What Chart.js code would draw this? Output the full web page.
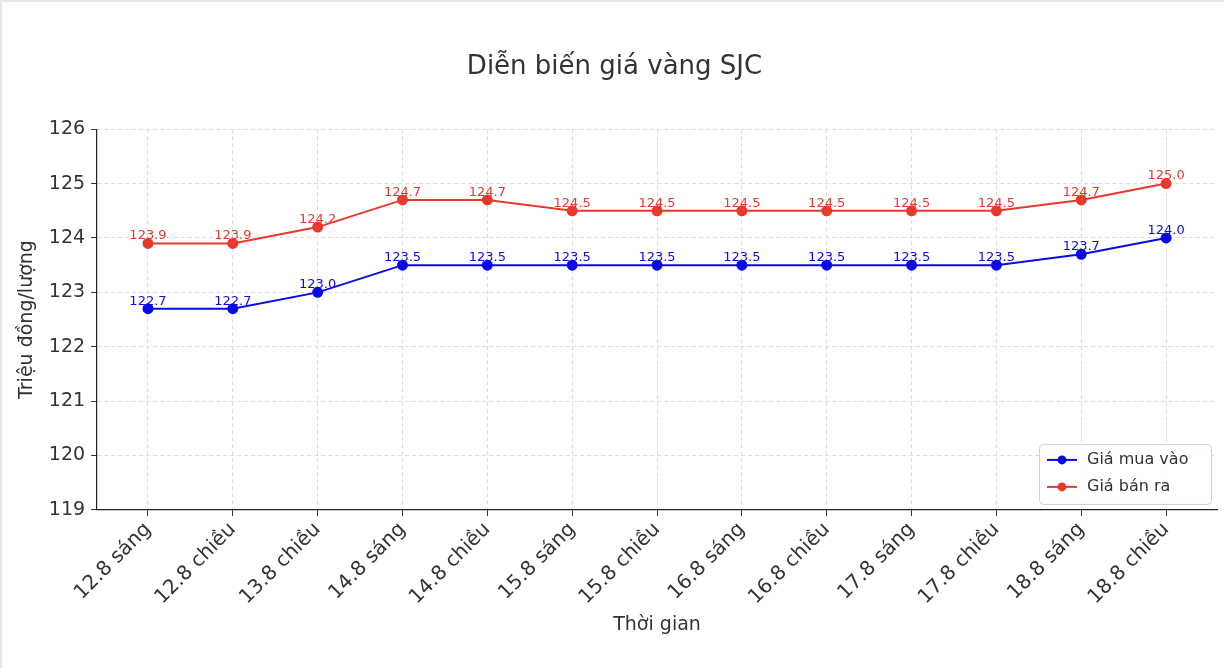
<!DOCTYPE html>
<html lang="vi">
<head>
<meta charset="UTF-8">
<title>Diễn biến giá vàng SJC</title>
<script src="https://cdn.jsdelivr.net/npm/chart.js"></script>
<style>
  html, body { margin: 0; padding: 0; background: #fff; }
  #wrap { width: 1224px; height: 668px; box-sizing: border-box; border: 2px solid #e6e6e6; border-right: none; border-bottom: none; }
</style>
</head>
<body>
<div id="wrap"><canvas id="c" width="1222" height="666"></canvas></div>
<script>
const labels = ['12.8 sáng', '12.8 chiều', '13.8 chiều', '14.8 sáng', '14.8 chiều', '15.8 sáng', '15.8 chiều',
                '16.8 sáng', '16.8 chiều', '17.8 sáng', '17.8 chiều', '18.8 sáng', '18.8 chiều'];
const buyPrices = [122.7, 122.7, 123.0, 123.5, 123.5, 123.5, 123.5, 123.5, 123.5, 123.5, 123.5, 123.7, 124.0];
const sellPrices = [123.9, 123.9, 124.2, 124.7, 124.7, 124.5, 124.5, 124.5, 124.5, 124.5, 124.5, 124.7, 125.0];

const FONT = 'DejaVu Sans';

// nhãn giá trị trên mỗi điểm
const valueLabels = {
  id: 'valueLabels',
  afterDatasetsDraw(chart) {
    const ctx = chart.ctx;
    ctx.save();
    ctx.font = '13px "' + FONT + '"';
    ctx.textAlign = 'center';
    ctx.textBaseline = 'bottom';
    chart.data.datasets.forEach((ds, i) => {
      chart.getDatasetMeta(i).data.forEach((pt, j) => {
        ctx.fillStyle = ds.borderColor;
        ctx.fillText(ds.data[j].y.toFixed(1), pt.x, pt.y - 1);
      });
    });
    ctx.restore();
  }
};

// chú thích góc dưới phải kiểu matplotlib
const boxLegend = {
  id: 'boxLegend',
  afterDraw(chart) {
    const ctx = chart.ctx, a = chart.chartArea;
    const w = 172, h = 60, x = a.right - w - 6, y = a.bottom - h - 6;
    ctx.save();
    ctx.fillStyle = 'rgba(255,255,255,0.9)';
    ctx.strokeStyle = '#d0d0d0';
    ctx.lineWidth = 1;
    ctx.beginPath();
    ctx.roundRect(x + 0.5, y + 0.5, w, h, 4);
    ctx.fill(); ctx.stroke();
    ctx.font = '16px "' + FONT + '"';
    ctx.textBaseline = 'middle';
    chart.data.datasets.forEach((ds, i) => {
      const ly = y + 16 + i * 27;
      ctx.strokeStyle = ds.borderColor;
      ctx.lineWidth = 2;
      ctx.beginPath(); ctx.moveTo(x + 8, ly); ctx.lineTo(x + 38, ly); ctx.stroke();
      ctx.fillStyle = ds.borderColor;
      ctx.beginPath(); ctx.arc(x + 23, ly, 4.5, 0, Math.PI * 2); ctx.fill();
      ctx.fillStyle = '#333';
      ctx.fillText(ds.label, x + 48, ly);
    });
    ctx.restore();
  }
};

const toPts = arr => arr.map((v, i) => ({ x: i, y: v }));

new Chart(document.getElementById('c'), {
  type: 'line',
  data: {
    datasets: [
      { label: 'Giá mua vào', data: toPts(buyPrices), borderColor: '#0a0ae6', backgroundColor: '#0a0ae6',
        borderWidth: 2, pointRadius: 4.5, pointHoverRadius: 4.5, tension: 0 },
      { label: 'Giá bán ra', data: toPts(sellPrices), borderColor: '#e8392d', backgroundColor: '#e8392d',
        borderWidth: 2, pointRadius: 4.5, pointHoverRadius: 4.5, tension: 0 }
    ]
  },
  options: {
    responsive: false,
    animation: false,
    layout: { padding: { top: 20, right: 7, left: 10, bottom: 30 } },
    plugins: {
      legend: { display: false },
      tooltip: { enabled: false },
      title: { display: true, text: 'Diễn biến giá vàng SJC', color: '#333',
               font: { family: FONT, size: 26, weight: 'normal' }, padding: { top: 30, bottom: 46 } }
    },
    scales: {
      x: {
        type: 'linear', min: -0.6, max: 12.6,
        afterBuildTicks: s => { s.ticks = labels.map((_, i) => ({ value: i })); },
        ticks: { callback: v => labels[v], color: '#333', font: { family: FONT, size: 20 },
                 maxRotation: 45, minRotation: 45, padding: 2 },
        grid: { color: '#dddddd', drawTicks: true, tickColor: '#333', tickLength: 6 },
        border: { color: '#222', width: 1.2, dash: [4, 3] },
        title: { display: true, text: 'Thời gian', color: '#333', font: { family: FONT, size: 19 }, padding: 2 }
      },
      y: {
        min: 119, max: 126,
        ticks: { stepSize: 1, color: '#333', font: { family: FONT, size: 19 }, padding: 6 },
        grid: { color: '#dddddd', tickColor: '#333', tickLength: 6 },
        border: { color: '#222', width: 1.2, dash: [4, 3] },
        title: { display: true, text: 'Triệu đồng/lượng', color: '#333', font: { family: FONT, size: 19 } }
      }
    }
  },
  plugins: [valueLabels, boxLegend]
});
</script>
</body>
</html>
